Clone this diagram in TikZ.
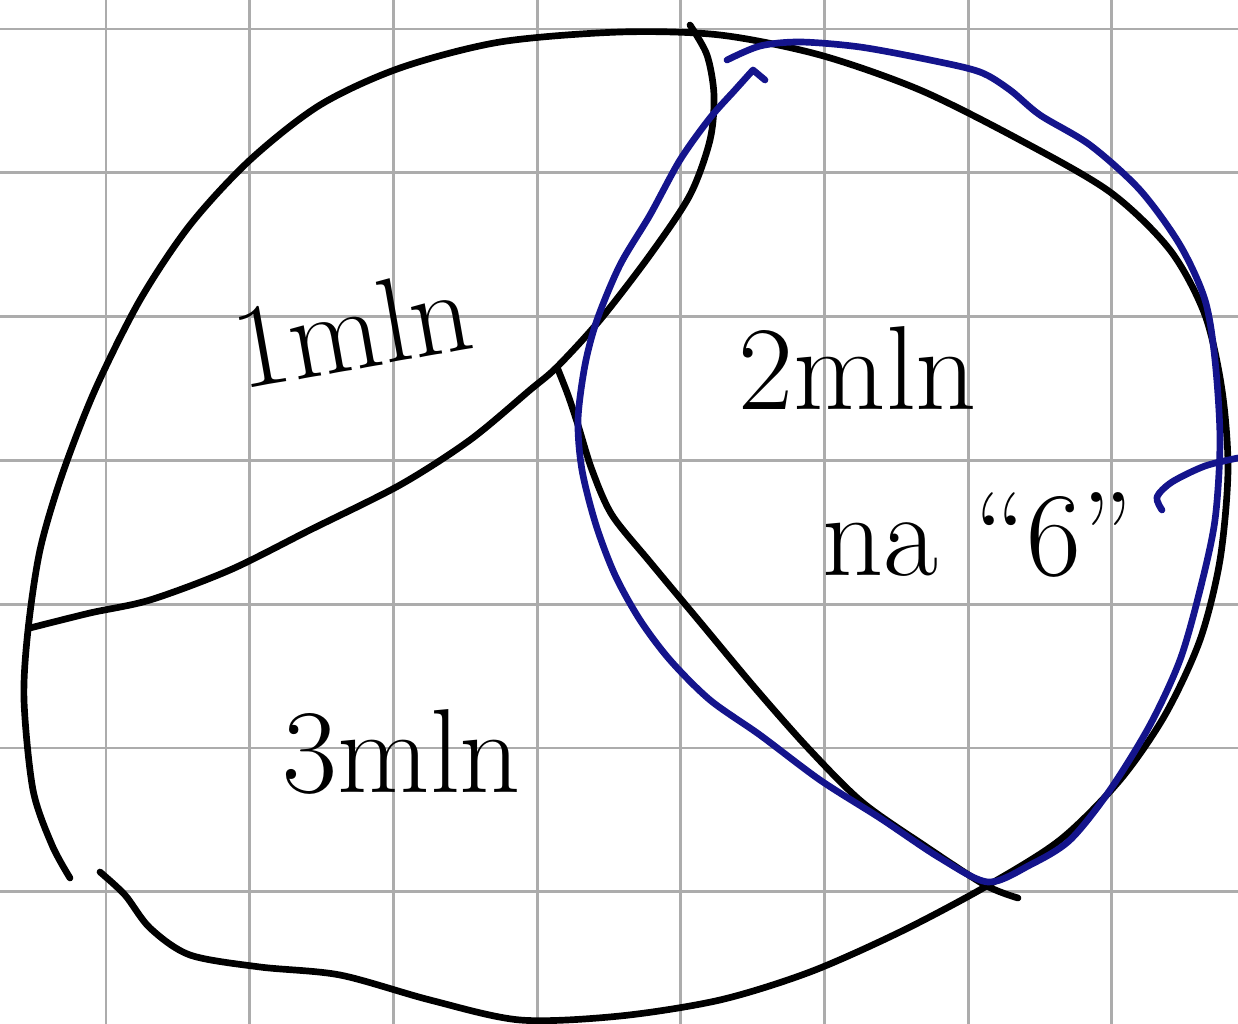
\documentclass[tikz,border=0pt]{standalone}
\usepackage{amsmath}
\usepackage{tikz}

\definecolor{penblue}{RGB}{20,20,140}
\definecolor{gridgray}{RGB}{172,172,172}

\tikzset{
	pen/.style={line width=1.9pt, line cap=round, line join=round},
	note/.style={font=\fontsize{34}{40}\selectfont, inner sep=0pt}
}

\begin{document}
\begin{tikzpicture}[x=0.01cm, y=-0.01cm]
					\useasboundingbox (0,0) rectangle (1238,1024);
					\fill[white] (0,0) rectangle (1238,1024);
					
					% squared paper
					\foreach \i in {0,...,7}
						\draw[gridgray, line width=0.85pt] (106+143.7*\i,0) -- (106+143.7*\i,1024);
					\foreach \j in {0,...,6}
						\draw[gridgray, line width=0.85pt] (0,29+143.8*\j) -- (1238,29+143.8*\j);
					
					% outer region
					\draw[pen] plot[smooth] coordinates {(100,872) (125,895) (150,928) (190,955) (260,967) (340,975) (430,1000) (520,1020) (620,1016) (720,1000) (810,972) (900,932) (985,887) (1060,840) (1120,780) (1165,715) (1200,640) (1220,560) (1228,470) (1222,390) (1205,315) (1170,250) (1110,192) (1020,140) (920,90) (820,55) (720,35) (620,32) (500,42) (400,68) (320,105) (250,160) (190,225) (140,300) (95,390) (62,475) (40,550) (28,630) (24,700) (33,790) (52,845) (70,878)};
					
					% dividing lines
					\draw[pen] plot[smooth] coordinates {(30,628) (90,613) (150,600) (230,570) (310,530) (400,485) (470,440) (530,390) (557,367) (600,320) (650,255) (690,195) (710,140) (714,95) (707,55) (690,25)};
					\draw[pen] plot[smooth] coordinates {(557,367) (568,395) (578,425) (592,470) (612,515) (650,562) (700,622) (755,688) (808,748) (862,802) (925,846) (985,885) (1018,898)};
					
					% blue loop
					\draw[pen, penblue] plot[smooth] coordinates {(727,60) (760,46) (800,42) (860,47) (930,60) (980,72) (1010,90) (1040,115) (1090,145) (1140,190) (1180,245) (1205,300) (1215,360) (1220,440) (1215,520) (1200,590) (1180,660) (1150,725) (1110,790) (1070,840) (1030,865) (988,882) (940,858) (880,818) (820,780) (760,735) (710,700) (670,660) (640,620) (615,575) (596,525) (582,470) (578,420) (585,365) (597,320) (620,265) (650,215) (680,160) (710,118) (735,90) (753,70)} -- (765,80);
					\draw[pen, penblue] plot[smooth] coordinates {(1162,510) (1157,497) (1172,482) (1205,466) (1238,458)};
					
					\node[note, rotate=10] (one) at (352,328) {1mln};
					\node[note] (two) at (858,368) {2mln};
					\node[note] (na) at (978,535) {na ``6''};
					\node[note] (three) at (402,752) {3mln};
					
				\end{tikzpicture}
\end{document}
